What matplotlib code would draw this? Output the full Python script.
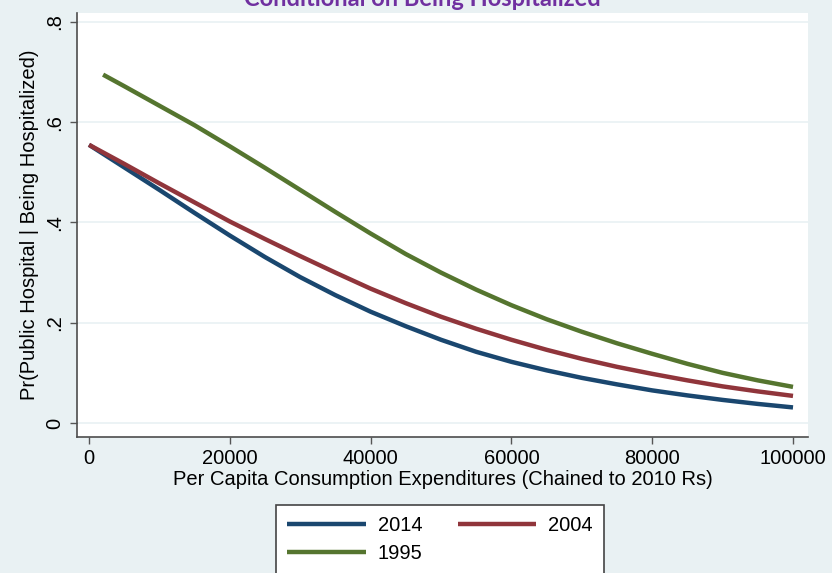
import matplotlib
matplotlib.use('Agg')
import matplotlib.pyplot as plt
from matplotlib import font_manager

# values
exp_x = [0, 5000, 10000, 15000, 20000, 25000, 30000, 35000, 40000, 45000, 50000,
         55000, 60000, 65000, 70000, 75000, 80000, 85000, 90000, 95000, 100000]
pr_2014 = [0.555, 0.510, 0.465, 0.419, 0.374, 0.331, 0.291, 0.255, 0.222, 0.193, 0.166,
           0.142, 0.122, 0.105, 0.090, 0.077, 0.065, 0.055, 0.046, 0.038, 0.031]
pr_2004 = [0.555, 0.517, 0.478, 0.440, 0.402, 0.367, 0.333, 0.300, 0.268, 0.239, 0.212,
           0.188, 0.166, 0.146, 0.128, 0.112, 0.098, 0.085, 0.073, 0.063, 0.054]
exp_x_1995 = [2000] + exp_x[1:]
pr_1995 = [0.695, 0.672, 0.633, 0.594, 0.552, 0.509, 0.465, 0.421, 0.378, 0.337, 0.300,
           0.266, 0.235, 0.207, 0.182, 0.159, 0.138, 0.118, 0.100, 0.085, 0.072]

yticks = [0, 0.2, 0.4, 0.6, 0.8]
ytick_labels = ['0', '.2', '.4', '.6', '.8']
xticks = [0, 20000, 40000, 60000, 80000, 100000]

names = {f.name for f in font_manager.fontManager.ttflist}
if 'Liberation Sans Narrow' in names:
    base_font, fs = 'Liberation Sans Narrow', 16.5
else:
    base_font, fs = 'Liberation Sans', 14.5
plt.rcParams['font.family'] = [base_font, 'DejaVu Sans']

W, H = 832, 573
bg = '#E9F1F3'
fig = plt.figure(figsize=(W / 100, H / 100), dpi=100, facecolor=bg)
ax = fig.add_axes([77 / W, 1 - 437 / H, (808 - 77) / W, (437 - 13) / H])
ax.set_facecolor('white')

l14, = ax.plot(exp_x, pr_2014, color='#1A476F', lw=3.2, solid_capstyle='butt')
l04, = ax.plot(exp_x, pr_2004, color='#90353B', lw=3.2, solid_capstyle='butt')
l95, = ax.plot(exp_x_1995, pr_1995, color='#55752F', lw=3.2, solid_capstyle='butt')

ax.set_xlim(-1705, 102130)
ax.set_ylim(-0.028, 0.818)
ax.set_xticks(xticks)
ax.set_xticklabels([str(v) for v in xticks])
ax.set_yticks(yticks)
ax.set_yticklabels(ytick_labels, rotation=90, va='center')
ax.tick_params(direction='out', length=5, width=1, color='#555555',
               labelsize=fs, labelcolor='black', pad=4)
ax.grid(axis='y', color='#E9F1F3', lw=1.2)
ax.set_axisbelow(True)
for s in ['top', 'right']:
    ax.spines[s].set_visible(False)
for s in ['left', 'bottom']:
    ax.spines[s].set_color('#4d4d4d')
    ax.spines[s].set_linewidth(1.2)

ax.set_xlabel('Per Capita Consumption Expenditures (Chained to 2010 Rs)', fontsize=fs, labelpad=1)
ax.set_ylabel('Pr(Public Hospital | Being Hospitalized)', fontsize=fs, labelpad=5)

fig.text(422 / W, 1 - 6 / H, 'Conditional on Being Hospitalized', ha='center', va='baseline',
         color='#7030A0', fontsize=17, fontweight='bold', family=['Lato', 'DejaVu Sans'])

leg = fig.legend([l14, l95, l04], ['2014', '1995', '2004'], ncol=2,
                 loc='upper left', bbox_to_anchor=(276 / W, 1 - 505 / H), borderaxespad=0,
                 fontsize=fs, frameon=True, fancybox=False, handlelength=3.9,
                 handletextpad=0.6, columnspacing=1.75, borderpad=0.55, labelspacing=0.45)
leg.get_frame().set_edgecolor('#444444')
leg.get_frame().set_linewidth(1.2)
leg.get_frame().set_alpha(1)

fig.savefig('out.png', dpi=100, facecolor=bg)
